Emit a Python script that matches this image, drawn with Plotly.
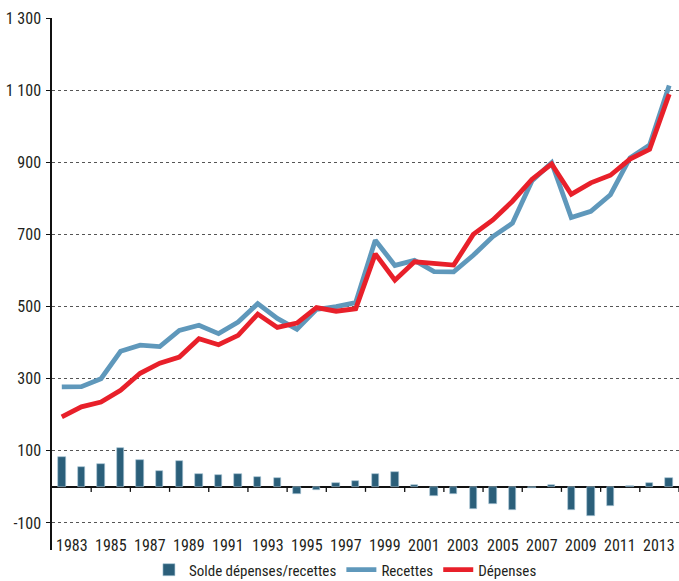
import plotly.graph_objects as go

# Annual series, 1983-2014
years = list(range(1983, 2015))
recettes = [277, 278, 300, 376, 393, 389, 434, 448, 425, 457, 508, 467, 437, 492, 500, 511,
            684, 614, 628, 597, 596, 642, 694, 731, 849, 899, 747, 764, 810, 912, 948, 1113]
depenses = [194, 222, 235, 268, 315, 343, 360, 411, 394, 420, 479, 442, 454, 497, 487, 494,
            646, 573, 624, 620, 615, 700, 740, 792, 853, 895, 811, 843, 864, 909, 936, 1089]
solde = [84, 56, 64, 107, 75, 44, 72, 36, 32, 36, 28, 24, -20, -8, 12, 16,
         36, 40, 4, -25, -20, -60, -48, -63, -4, 4, -63, -80, -52, 3, 12, 24]

# Axis labels
y_ticks = [-100, 100, 300, 500, 700, 900, 1100, 1300]
y_ticktext = ["-100", "100", "300", "500", "700", "900", "1 100", "1 300"]
year_labels = list(range(1983, 2014, 2))

FONT = "Liberation Sans Narrow, Arial Narrow, Roboto Condensed, sans-serif"
TXT = "#231f20"

fig = go.Figure()
fig.add_trace(go.Bar(
    x=years, y=solde, name="Solde dépenses/recettes", width=0.38,
    marker=dict(color="#2b5f7a", line=dict(color="#a9c7d8", width=0.6)),
))
fig.add_trace(go.Scatter(
    x=years, y=recettes, name="Recettes", mode="lines",
    line=dict(color="#5f98bb", width=4.8),
))
fig.add_trace(go.Scatter(
    x=years, y=depenses, name="Dépenses", mode="lines",
    line=dict(color="#e8202a", width=4.8),
))

# Year labels centred on each two-year span
annotations = [
    dict(x=yr + 0.5, y=-162, xref="x", yref="y", text=str(yr), showarrow=False,
         font=dict(family=FONT, size=16, color=TXT), xanchor="center", yanchor="middle")
    for yr in year_labels
]

# Tick marks hanging below the zero line at span boundaries
shapes = [
    dict(type="line", xref="x", yref="y", ysizemode="pixel", yanchor=0,
         x0=yr + 1.5, x1=yr + 1.5, y0=0, y1=-5, line=dict(color="#111", width=1.3))
    for yr in year_labels
]

fig.update_layout(
    width=679, height=581,
    margin=dict(l=52, r=0, t=18, b=31, autoexpand=False),
    paper_bgcolor="white", plot_bgcolor="white",
    font=dict(family=FONT, size=16, color=TXT),
    bargap=0,
    showlegend=True,
    legend=dict(orientation="h", x=0.468, xanchor="center",
                yref="container", y=0.019, yanchor="middle",
                font=dict(family=FONT, size=15, color=TXT), bgcolor="rgba(0,0,0,0)"),
    annotations=annotations,
    shapes=shapes,
    xaxis=dict(range=[1982.5, 2014.5], showgrid=False, zeroline=False, showline=False,
               showticklabels=False, ticks=""),
    yaxis=dict(range=[-175, 1300], tickvals=y_ticks, ticktext=y_ticktext,
               showgrid=True, gridcolor="#555", griddash="dot", gridwidth=1,
               zeroline=True, zerolinecolor="#111", zerolinewidth=1.5,
               showline=True, linecolor="#111", linewidth=1.5,
               ticks="outside", ticklen=4, tickcolor="#111", ticklabelstandoff=2,
               tickfont=dict(family=FONT, size=16, color=TXT)),
)

fig.write_html("out.html")
